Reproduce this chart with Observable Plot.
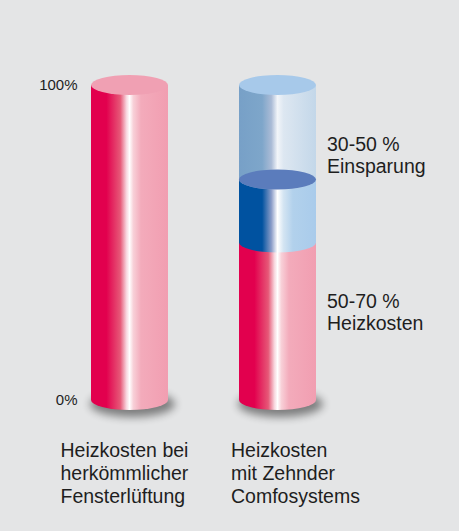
<!DOCTYPE html>
<html><head><meta charset="utf-8">
<script src="https://cdn.jsdelivr.net/npm/d3@7"></script>
<script src="https://cdn.jsdelivr.net/npm/@observablehq/plot@0.6"></script>
<style>
html,body{margin:0;padding:0;background:#e4e5e6;}
#chart svg{display:block;}
</style></head><body><div id="chart"></div>
<script>
// ---- data ----
const categories = ["Heizkosten bei\nherkömmlicher\nFensterlüftung", "Heizkosten\nmit Zehnder\nComfosystems"];
const segBar = [0, 1, 1, 1];
const segFrom = [0, 0, 50, 70];
const segTo = [100, 50, 70, 100];
const segKind = ["kosten", "kosten", "spanne", "einsparung"];
const tickValues = [0, 100];
const noteText = ["30-50 %\nEinsparung", "50-70 %\nHeizkosten"];
const noteY = [77.9, 28.1];

// ---- styles ----
const kindStyle = {
  kosten: {top: "#f0a0b3", stops: [[0, "#e2004e"], [0.2, "#e2004e"], [0.38, "#e65877"], [0.46, "#f8d6de"], [0.5, "#ffffff"], [0.55, "#f8d0d8"], [0.65, "#f3abbb"], [1, "#f19eb1"]]},
  spanne: {top: "#5b7cbc", stops: [[0, "#0052a0"], [0.3, "#0052a0"], [0.42, "#8a9cc8"], [0.5, "#ffffff"], [0.58, "#d3e4f2"], [0.7, "#b2d1ec"], [1, "#a9cbeb"]]},
  einsparung: {top: "#a7c9ea", stops: [[0, "#77a0c7"], [0.3, "#7ea6ca"], [0.42, "#aabbd6"], [0.5, "#f2f5f9"], [0.58, "#dde7f1"], [1, "#c3d7e9"]]}
};
const W = 459, H = 531;

function cylinders(index, scales) {
  const {x, y} = scales;
  const bw = x.bandwidth();
  const rx = bw / 2, ry = 10;
  const g = d3.create("svg:g");
  const defs = g.append("defs");
  for (const [kind, st] of Object.entries(kindStyle)) {
    const lg = defs.append("linearGradient").attr("id", `grad-${kind}`)
      .attr("x1", 0).attr("x2", 1).attr("y1", 0).attr("y2", 0);
    for (const [o, c] of st.stops) lg.append("stop").attr("offset", o).attr("stop-color", c);
  }
  const f = defs.append("filter").attr("id", "shadow-blur")
    .attr("x", "-50%").attr("y", "-50%").attr("width", "200%").attr("height", "200%");
  f.append("feGaussianBlur").attr("stdDeviation", 4);
  categories.forEach(c => {
    g.append("ellipse").attr("cx", x(c) + bw / 2 + 3).attr("cy", y(0) + 4)
      .attr("rx", rx + 4).attr("ry", ry + 3).attr("fill", "#000")
      .attr("opacity", 0.45).attr("filter", "url(#shadow-blur)");
  });
  segFrom.forEach((from, i) => {
    const c = categories[segBar[i]];
    const x0 = x(c), x1 = x0 + bw;
    const yb = y(from), yt = y(segTo[i]);
    g.append("path")
      .attr("d", `M${x0},${yb}L${x0},${yt}L${x1},${yt}L${x1},${yb}A${rx},${ry} 0 0 1 ${x0},${yb}Z`)
      .attr("fill", `url(#grad-${segKind[i]})`);
  });
  segTo.forEach((to, i) => {
    const above = segFrom.findIndex((f2, j) => segBar[j] === segBar[i] && f2 === to);
    if (above >= 0 && segKind[above] !== "einsparung") return;
    const c = categories[segBar[i]];
    g.append("ellipse").attr("cx", x(c) + bw / 2).attr("cy", y(to))
      .attr("rx", rx).attr("ry", ry).attr("fill", kindStyle[segKind[i]].top);
  });
  return g.node();
}

const textStyle = {fill: "#1e1e1e", fontSize: 19.5, textAnchor: "start"};

const chart = Plot.plot({
  width: W, height: H,
  marginLeft: 80, marginRight: 132, marginTop: 85, marginBottom: 131,
  style: {background: "#e4e5e6", fontFamily: "'Liberation Sans', Arial, sans-serif", fontSize: "15px", color: "#1e1e1e"},
  x: {type: "band", domain: categories, paddingInner: 0.48, paddingOuter: 0.0743, axis: null},
  y: {domain: [0, 100], axis: null},
  marks: [
    cylinders,
    Plot.text(tickValues, {y: d => d, frameAnchor: "left", textAnchor: "end", dx: -3, text: d => `${d}%`, fontSize: 15, fill: "#1e1e1e"}),
    Plot.text([categories[0]], {x: d => d, frameAnchor: "bottom", lineAnchor: "top", dx: -69.5, dy: 40, lineHeight: 1.18, ...textStyle}),
    Plot.text([categories[1]], {x: d => d, frameAnchor: "bottom", lineAnchor: "top", dx: -47, dy: 40, lineHeight: 1.18, ...textStyle}),
    Plot.text(noteText, {x: () => categories[1], y: noteY, lineAnchor: "middle", dx: 49, lineHeight: 1.13, ...textStyle})
  ]
});
document.getElementById("chart").appendChild(chart);
</script>
</body></html>
